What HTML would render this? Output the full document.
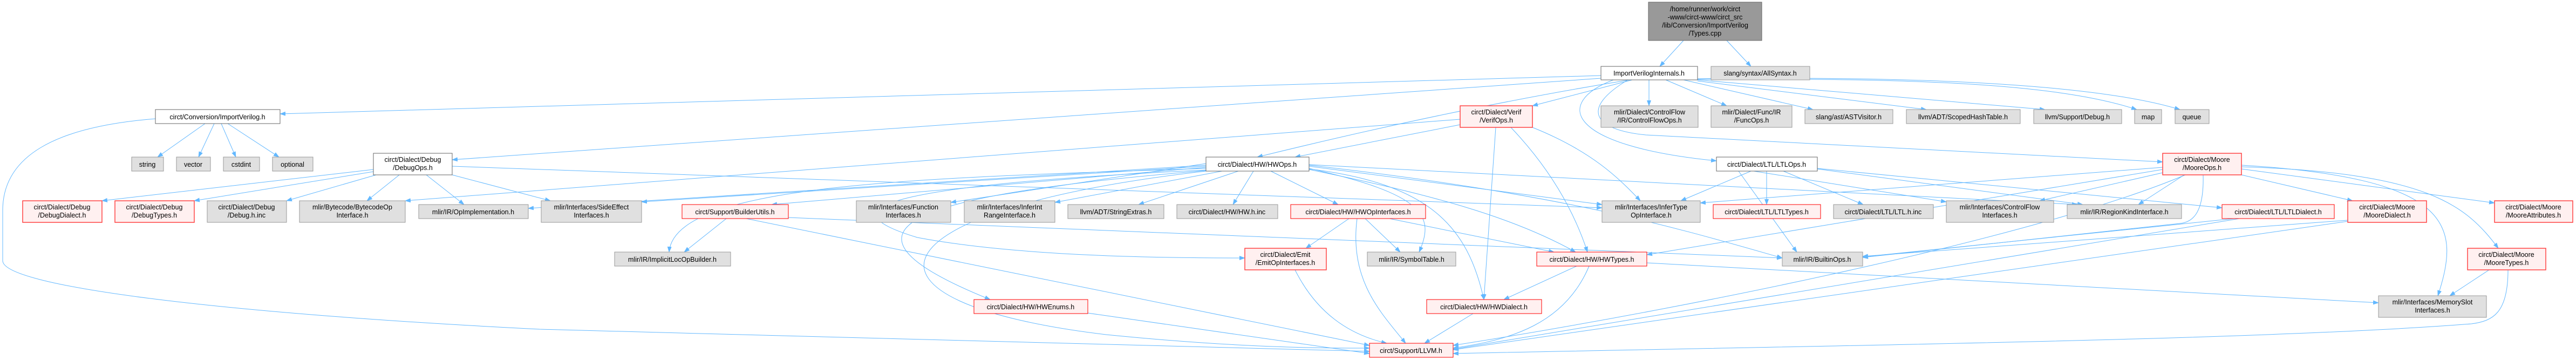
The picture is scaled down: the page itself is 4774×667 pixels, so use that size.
<!DOCTYPE html>
<html><head><meta charset="utf-8"><style>
html,body{margin:0;padding:0;background:#fff}
svg{display:block}
text{font-family:"Liberation Sans",sans-serif;font-size:12.5px;fill:#000;text-anchor:middle}
.w{fill:#fff;stroke:#666;stroke-width:1}
.g{fill:#e0e0e0;stroke:#999;stroke-width:1}
.r{fill:#fff0f0;stroke:#f44;stroke-width:1.5}
.rt{fill:#fff0f0;stroke:#f00;stroke-width:1}
.t{fill:#999;stroke:#666;stroke-width:1}
path.e{fill:none;stroke:#63b8ff;stroke-width:1}
</style></head><body>
<svg width="4774" height="667" viewBox="0 0 4774 667" xmlns="http://www.w3.org/2000/svg">
<defs><marker id="a" markerWidth="11" markerHeight="8" refX="10" refY="4" orient="auto" markerUnits="userSpaceOnUse"><path d="M0,0 L11,4 L0,8 z" fill="#63b8ff"/></marker></defs>
<g marker-end="url(#a)">
<path class="e" d="M3120,75 L3076,123"/>
<path class="e" d="M3200,75 L3245,123"/>
<path class="e" d="M2967,140 L519,211"/>
<path class="e" d="M2967,145 L838,296"/>
<path class="e" d="M3020,148 Q2700,200 2330,291"/>
<path class="e" d="M3025,148 L2840,196"/>
<path class="e" d="M3056,148 L3056,196"/>
<path class="e" d="M3087,148 L3200,196"/>
<path class="e" d="M2990,148 C2880,190 2900,270 3181,298"/>
<path class="e" d="M3017,148 C2930,200 2950,240 3050,250 L4008,300"/>
<path class="e" d="M3120,148 L3360,203"/>
<path class="e" d="M3146,150 L3570,203"/>
<path class="e" d="M3146,148 L3790,203"/>
<path class="e" d="M3146,147 C3500,145 3800,150 3960,203"/>
<path class="e" d="M3146,146 C3600,140 3900,160 4040,203"/>
<path class="e" d="M380,229 L292,291"/>
<path class="e" d="M397,229 L368,291"/>
<path class="e" d="M410,229 L437,291"/>
<path class="e" d="M422,229 L517,291"/>
<path class="e" d="M288,220 C100,235 5,290 5,390 L5,483 C5,530 400,580 1000,610 L2538,651"/>
<path class="e" d="M692,314 L189,372"/>
<path class="e" d="M692,318 L360,372"/>
<path class="e" d="M697,324 L531,372"/>
<path class="e" d="M740,324 L680,372"/>
<path class="e" d="M790,324 L860,379"/>
<path class="e" d="M838,324 L1020,372"/>
<path class="e" d="M838,308 L2969,385"/>
<path class="e" d="M2706,221 L751,372"/>
<path class="e" d="M2706,231 L2400,291"/>
<path class="e" d="M2772,236 L2750,555"/>
<path class="e" d="M2800,236 C2880,320 2920,400 2942,467"/>
<path class="e" d="M2840,236 C2950,280 3000,330 3040,372"/>
<path class="e" d="M2235,303 L1762,375"/>
<path class="e" d="M2265,317 L1955,375"/>
<path class="e" d="M2295,317 L2110,379"/>
<path class="e" d="M2323,317 L2285,379"/>
<path class="e" d="M2355,317 L2480,379"/>
<path class="e" d="M2426,312 C2640,360 2660,400 2630,467"/>
<path class="e" d="M2426,314 C2650,360 2800,400 2920,467"/>
<path class="e" d="M2426,313 C2650,340 2720,420 2750,555"/>
<path class="e" d="M2426,308 L2969,379"/>
<path class="e" d="M2426,306 C2900,360 3100,420 3303,478"/>
<path class="e" d="M2426,305 L3850,379"/>
<path class="e" d="M2235,306 L979,386"/>
<path class="e" d="M2235,308 L1189,374"/>
<path class="e" d="M2235,310 L1430,379"/>
<path class="e" d="M2235,312 C1700,330 1250,340 1240,467"/>
<path class="e" d="M2235,315 C1700,340 1500,380 1700,440 C1900,478 2200,478 2307,478"/>
<path class="e" d="M2235,316 C1700,360 1500,420 1835,555"/>
<path class="e" d="M2235,317 C1600,390 1550,560 2050,620 C2300,645 2450,645 2538,645"/>
<path class="e" d="M2500,405 L2420,460"/>
<path class="e" d="M2530,405 L2595,467"/>
<path class="e" d="M2575,405 L2880,467"/>
<path class="e" d="M2515,405 C2500,520 2560,580 2605,636"/>
<path class="e" d="M2400,500 C2440,580 2500,620 2570,636"/>
<path class="e" d="M2016,580 L2538,655"/>
<path class="e" d="M2922,493 L2787,555"/>
<path class="e" d="M2945,493 C2900,600 2800,630 2693,645"/>
<path class="e" d="M2730,581 L2640,636"/>
<path class="e" d="M3052,487 L4408,561"/>
<path class="e" d="M1346,405 L1268,467"/>
<path class="e" d="M1383,405 L2538,640"/>
<path class="e" d="M1461,403 L3303,478"/>
<path class="e" d="M3274,317 L3274,379"/>
<path class="e" d="M3305,317 L3453,379"/>
<path class="e" d="M3245,317 L3115,372"/>
<path class="e" d="M3368,313 L3860,379"/>
<path class="e" d="M3368,312 L4118,385"/>
<path class="e" d="M3250,317 L3607,374"/>
<path class="e" d="M3222,317 L3330,467"/>
<path class="e" d="M4154,324 L4360,372"/>
<path class="e" d="M4154,313 L4623,376"/>
<path class="e" d="M4154,309 C4500,320 4570,380 4630,460"/>
<path class="e" d="M4154,306 C4550,330 4560,420 4518,548"/>
<path class="e" d="M4048,324 L3963,379"/>
<path class="e" d="M4008,320 L3780,372"/>
<path class="e" d="M4008,310 L3151,376"/>
<path class="e" d="M4008,314 L3052,472"/>
<path class="e" d="M4083,324 C4085,400 4060,412 4040,414 L3452,477"/>
<path class="e" d="M4050,324 C3800,430 3200,560 2693,640"/>
<path class="e" d="M4351,410 L2693,648"/>
<path class="e" d="M4351,408 L3452,475"/>
<path class="e" d="M4613,500 L4540,548"/>
<path class="e" d="M4648,500 C4648,580 4620,595 4580,600 C4200,630 3400,640 2693,655"/>
<path class="e" d="M4150,405 L2693,647"/>
<path class="e" d="M4140,405 L3452,476"/>
</g>

<rect class="t" x="3055" y="4" width="210" height="71"/>
<text x="3160" y="21">/home/runner/work/circt</text><text x="3160" y="36">-www/circt-www/circt_src</text><text x="3160" y="51">/lib/Conversion/ImportVerilog</text><text x="3160" y="66">/Types.cpp</text>

<rect class="w" x="2967" y="123" width="179" height="25"/><text x="3056" y="140">ImportVerilogInternals.h</text>
<rect class="g" x="3171" y="123" width="183" height="25"/><text x="3262" y="140">slang/syntax/AllSyntax.h</text>

<rect class="w" x="288" y="203" width="231" height="26"/><text x="403" y="221">circt/Conversion/ImportVerilog.h</text>
<rect class="r" x="2706" y="196" width="134" height="40"/><text x="2773" y="212">circt/Dialect/Verif</text><text x="2773" y="227">/VerifOps.h</text>
<rect class="g" x="2967" y="196" width="180" height="40"/><text x="3057" y="212">mlir/Dialect/ControlFlow</text><text x="3057" y="227">/IR/ControlFlowOps.h</text>
<rect class="g" x="3171" y="196" width="150" height="40"/><text x="3246" y="212">mlir/Dialect/Func/IR</text><text x="3246" y="227">/FuncOps.h</text>
<rect class="g" x="3345" y="203" width="163" height="26"/><text x="3426" y="221">slang/ast/ASTVisitor.h</text>
<rect class="g" x="3533" y="203" width="211" height="26"/><text x="3638" y="221">llvm/ADT/ScopedHashTable.h</text>
<rect class="g" x="3769" y="203" width="163" height="26"/><text x="3850" y="221">llvm/Support/Debug.h</text>
<rect class="g" x="3956" y="203" width="50" height="26"/><text x="3981" y="221">map</text>
<rect class="g" x="4031" y="203" width="63" height="26"/><text x="4062" y="221">queue</text>

<rect class="g" x="244" y="291" width="59" height="26"/><text x="273" y="309">string</text>
<rect class="g" x="327" y="291" width="63" height="26"/><text x="358" y="309">vector</text>
<rect class="g" x="414" y="291" width="67" height="26"/><text x="447" y="309">cstdint</text>
<rect class="g" x="505" y="291" width="75" height="26"/><text x="542" y="309">optional</text>
<rect class="w" x="692" y="284" width="146" height="40"/><text x="765" y="300">circt/Dialect/Debug</text><text x="765" y="315">/DebugOps.h</text>
<rect class="w" x="2235" y="291" width="191" height="26"/><text x="2330" y="309">circt/Dialect/HW/HWOps.h</text>
<rect class="w" x="3181" y="291" width="187" height="26"/><text x="3274" y="309">circt/Dialect/LTL/LTLOps.h</text>
<rect class="r" x="4008" y="284" width="146" height="40"/><text x="4081" y="300">circt/Dialect/Moore</text><text x="4081" y="315">/MooreOps.h</text>

<rect class="r" x="42" y="372" width="147" height="40"/><text x="115" y="388">circt/Dialect/Debug</text><text x="115" y="403">/DebugDialect.h</text>
<rect class="r" x="213" y="372" width="147" height="40"/><text x="286" y="388">circt/Dialect/Debug</text><text x="286" y="403">/DebugTypes.h</text>
<rect class="g" x="384" y="372" width="147" height="40"/><text x="457" y="388">circt/Dialect/Debug</text><text x="457" y="403">/Debug.h.inc</text>
<rect class="g" x="555" y="372" width="196" height="40"/><text x="653" y="388">mlir/Bytecode/BytecodeOp</text><text x="653" y="403">Interface.h</text>
<rect class="g" x="776" y="379" width="203" height="26"/><text x="877" y="397">mlir/IR/OpImplementation.h</text>
<rect class="g" x="1003" y="372" width="186" height="40"/><text x="1096" y="388">mlir/Interfaces/SideEffect</text><text x="1096" y="403">Interfaces.h</text>
<rect class="rt" x="1264" y="379" width="197" height="26"/><text x="1362" y="397">circt/Support/BuilderUtils.h</text>
<rect class="g" x="1587" y="372" width="175" height="40"/><text x="1674" y="388">mlir/Interfaces/Function</text><text x="1674" y="403">Interfaces.h</text>
<rect class="g" x="1787" y="372" width="168" height="40"/><text x="1871" y="388">mlir/Interfaces/InferInt</text><text x="1871" y="403">RangeInterface.h</text>
<rect class="g" x="1979" y="379" width="178" height="26"/><text x="2068" y="397">llvm/ADT/StringExtras.h</text>
<rect class="g" x="2181" y="379" width="187" height="26"/><text x="2274" y="397">circt/Dialect/HW/HW.h.inc</text>
<rect class="rt" x="2392" y="379" width="250" height="26"/><text x="2517" y="397">circt/Dialect/HW/HWOpInterfaces.h</text>
<rect class="g" x="2969" y="372" width="182" height="40"/><text x="3060" y="388">mlir/Interfaces/InferType</text><text x="3060" y="403">OpInterface.h</text>
<rect class="rt" x="3175" y="379" width="199" height="26"/><text x="3274" y="397">circt/Dialect/LTL/LTLTypes.h</text>
<rect class="g" x="3398" y="379" width="185" height="26"/><text x="3490" y="397">circt/Dialect/LTL/LTL.h.inc</text>
<rect class="g" x="3607" y="372" width="199" height="40"/><text x="3706" y="388">mlir/Interfaces/ControlFlow</text><text x="3706" y="403">Interfaces.h</text>
<rect class="g" x="3831" y="379" width="212" height="26"/><text x="3937" y="397">mlir/IR/RegionKindInterface.h</text>
<rect class="rt" x="4118" y="379" width="208" height="26"/><text x="4222" y="397">circt/Dialect/LTL/LTLDialect.h</text>
<rect class="r" x="4351" y="372" width="146" height="40"/><text x="4424" y="388">circt/Dialect/Moore</text><text x="4424" y="403">/MooreDialect.h</text>
<rect class="r" x="4623" y="372" width="145" height="40"/><text x="4695" y="388">circt/Dialect/Moore</text><text x="4695" y="403">/MooreAttributes.h</text>

<rect class="g" x="1139" y="467" width="215" height="26"/><text x="1246" y="485">mlir/IR/ImplicitLocOpBuilder.h</text>
<rect class="r" x="2307" y="460" width="151" height="40"/><text x="2382" y="476">circt/Dialect/Emit</text><text x="2382" y="491">/EmitOpInterfaces.h</text>
<rect class="g" x="2534" y="467" width="164" height="26"/><text x="2616" y="485">mlir/IR/SymbolTable.h</text>
<rect class="rt" x="2848" y="467" width="204" height="26"/><text x="2950" y="485">circt/Dialect/HW/HWTypes.h</text>
<rect class="g" x="3303" y="467" width="149" height="26"/><text x="3377" y="485">mlir/IR/BuiltinOps.h</text>
<rect class="r" x="4573" y="460" width="145" height="40"/><text x="4645" y="476">circt/Dialect/Moore</text><text x="4645" y="491">/MooreTypes.h</text>

<rect class="rt" x="1805" y="555" width="211" height="26"/><text x="1910" y="573">circt/Dialect/HW/HWEnums.h</text>
<rect class="rt" x="2644" y="555" width="213" height="26"/><text x="2750" y="573">circt/Dialect/HW/HWDialect.h</text>
<rect class="g" x="4408" y="548" width="200" height="40"/><text x="4508" y="564">mlir/Interfaces/MemorySlot</text><text x="4508" y="579">Interfaces.h</text>

<rect class="rt" x="2538" y="636" width="155" height="26"/><text x="2615" y="654">circt/Support/LLVM.h</text>
</svg>
</body></html>
